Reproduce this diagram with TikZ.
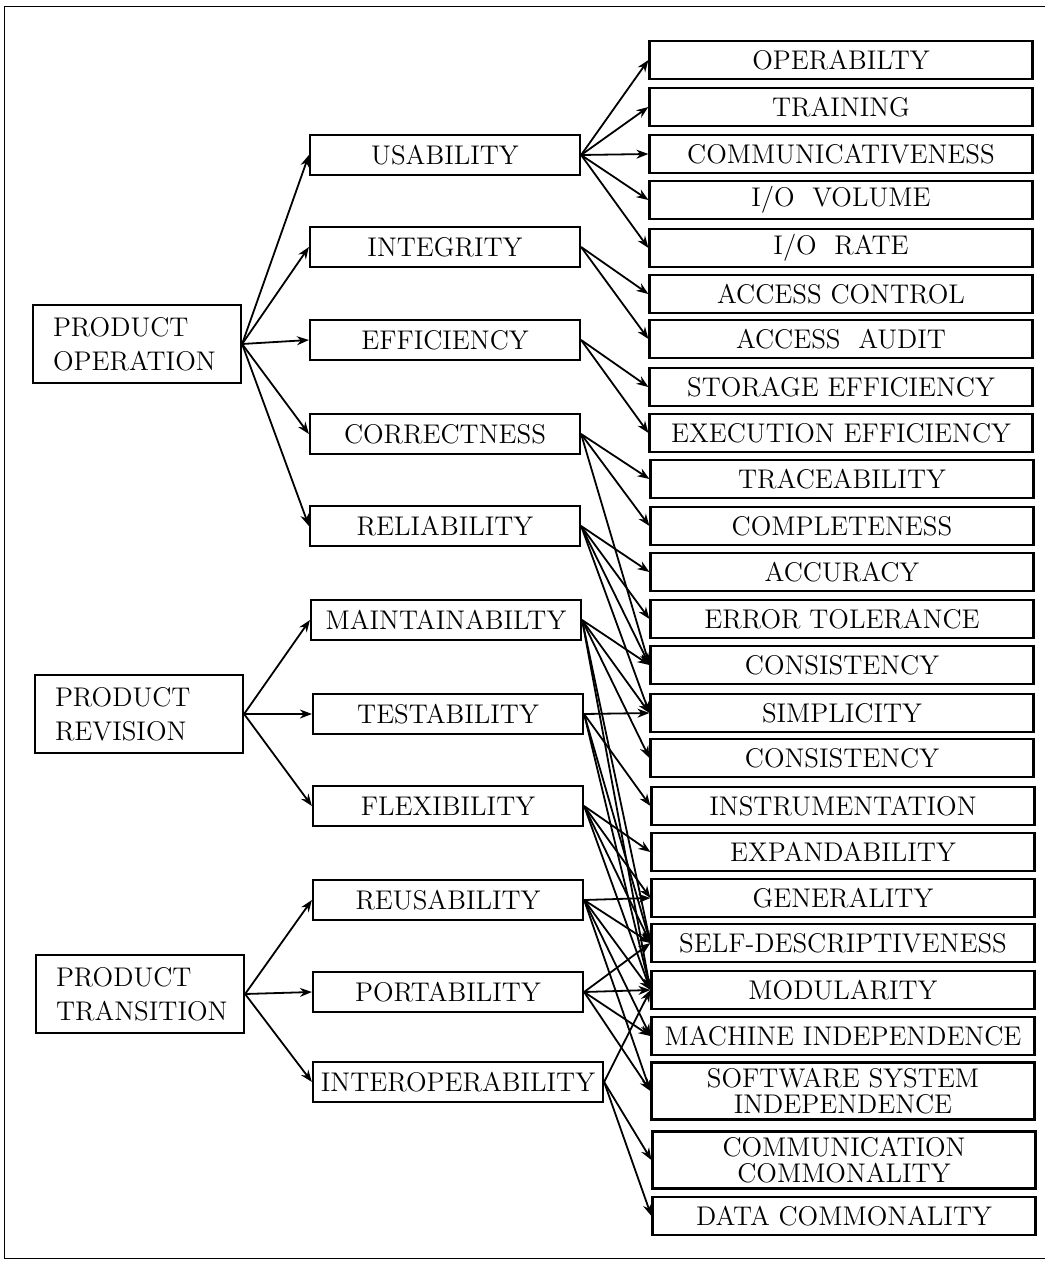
\documentclass[tikz,border=0pt]{standalone}
\usepackage{tikz}
\usetikzlibrary{arrows.meta,positioning}
\tikzset{
  caja/.style={draw,line width=1.1pt,fill=white,align=center,inner sep=2pt,font=\fontsize{13.5}{13}\selectfont},
  cajagrupo/.style={caja,align=left,text width=84pt,inner xsep=10pt,minimum height=39pt,font=\fontsize{13.5}{17}\selectfont},
  cajafactor/.style={caja,minimum width=135pt,minimum height=20pt},
  cajacriterio/.style={caja,minimum width=191.5pt,minimum height=19pt},
  cajadoble/.style={cajacriterio,minimum height=28.5pt},
  flecha/.style={-{Stealth[length=6pt,width=4.5pt]},line width=0.9pt},
  marco/.style={thin},
}

\begin{document}
\begin{tikzpicture}[x=0.5pt,y=-0.5pt]
  \useasboundingbox (0,0) rectangle (1045,1262);
  \draw[marco] (1045,6) -- (4,6) -- (4,1258) -- (1045,1258);

  % grupos
  \node[cajagrupo] (po) at (137,344) {PRODUCT\\OPERATION};
  \node[cajagrupo] (pr) at (139,714) {PRODUCT\\REVISION};
  \node[cajagrupo] (pt) at (140,994) {PRODUCT\\TRANSITION};

  % factores
  \node[cajafactor] (usab) at (445,155) {USABILITY};
  \node[cajafactor] (inte) at (445,247) {INTEGRITY};
  \node[cajafactor] (effi) at (445,340) {EFFICIENCY};
  \node[cajafactor] (corr) at (445,434) {CORRECTNESS};
  \node[cajafactor] (reli) at (445,526) {RELIABILITY};
  \node[cajafactor] (main) at (446,620) {MAINTAINABILTY};
  \node[cajafactor] (test) at (448,714) {TESTABILITY};
  \node[cajafactor] (flex) at (448,806) {FLEXIBILITY};
  \node[cajafactor] (reus) at (448,900) {REUSABILITY};
  \node[cajafactor] (port) at (448,992) {PORTABILITY};
  \node[cajafactor,minimum width=145pt] (intop) at (458,1082) {INTEROPERABILITY};

  % criterios
  \node[cajacriterio] (oper) at (841,60) {OPERABILTY};
  \node[cajacriterio] (trai) at (841,107) {TRAINING};
  \node[cajacriterio] (comm) at (841,154) {COMMUNICATIVENESS};
  \node[cajacriterio] (iovol) at (841,200) {I/O\ \ VOLUME};
  \node[cajacriterio] (iorat) at (841,248) {I/O\ \ RATE};
  \node[cajacriterio] (acon) at (841,294) {ACCESS CONTROL};
  \node[cajacriterio] (aaud) at (841,339) {ACCESS\ \ AUDIT};
  \node[cajacriterio] (stor) at (841,387) {STORAGE EFFICIENCY};
  \node[cajacriterio] (exec) at (841,433) {EXECUTION EFFICIENCY};
  \node[cajacriterio] (trac) at (842,479) {TRACEABILITY};
  \node[cajacriterio] (comp) at (842,526) {COMPLETENESS};
  \node[cajacriterio] (accu) at (842,572) {ACCURACY};
  \node[cajacriterio] (errt) at (842,619) {ERROR TOLERANCE};
  \node[cajacriterio] (cons) at (842,665) {CONSISTENCY};
  \node[cajacriterio] (simp) at (842,713) {SIMPLICITY};
  \node[cajacriterio] (conc) at (842,758) {CONSISTENCY};
  \node[cajacriterio] (inst) at (843,806) {INSTRUMENTATION};
  \node[cajacriterio] (expa) at (843,852) {EXPANDABILITY};
  \node[cajacriterio] (gene) at (843,898) {GENERALITY};
  \node[cajacriterio] (self) at (843,943) {SELF-DESCRIPTIVENESS};
  \node[cajacriterio] (modu) at (843,990) {MODULARITY};
  \node[cajacriterio] (mach) at (843,1036) {MACHINE INDEPENDENCE};
  \node[cajadoble] (soft) at (843,1091) {SOFTWARE SYSTEM\\INDEPENDENCE};
  \node[cajadoble] (ccom) at (844,1160) {COMMUNICATION\\COMMONALITY};
  \node[cajacriterio] (dcom) at (844,1216) {DATA COMMONALITY};

  % grupos -> factores
  \draw[flecha] (po.east) -- (usab.west);
  \draw[flecha] (po.east) -- (inte.west);
  \draw[flecha] (po.east) -- (effi.west);
  \draw[flecha] (po.east) -- (corr.west);
  \draw[flecha] (po.east) -- (reli.west);
  \draw[flecha] (pr.east) -- (main.west);
  \draw[flecha] (pr.east) -- (test.west);
  \draw[flecha] (pr.east) -- (flex.west);
  \draw[flecha] (pt.east) -- (reus.west);
  \draw[flecha] (pt.east) -- (port.west);
  \draw[flecha] (pt.east) -- (intop.west);

  % factores -> criterios
  \draw[flecha] (usab.east) -- (oper.west);
  \draw[flecha] (usab.east) -- (trai.west);
  \draw[flecha] (usab.east) -- (comm.west);
  \draw[flecha] (usab.east) -- (iovol.west);
  \draw[flecha] (usab.east) -- (iorat.west);
  \draw[flecha] (inte.east) -- (acon.west);
  \draw[flecha] (inte.east) -- (aaud.west);
  \draw[flecha] (effi.east) -- (stor.west);
  \draw[flecha] (effi.east) -- (exec.west);
  \draw[flecha] (corr.east) -- (trac.west);
  \draw[flecha] (corr.east) -- (comp.west);
  \draw[flecha] (corr.east) -- (cons.west);
  \draw[flecha] (reli.east) -- (accu.west);
  \draw[flecha] (reli.east) -- (errt.west);
  \draw[flecha] (reli.east) -- (cons.west);
  \draw[flecha] (reli.east) -- (simp.west);
  \draw[flecha] (main.east) -- (cons.west);
  \draw[flecha] (main.east) -- (simp.west);
  \draw[flecha] (main.east) -- (conc.west);
  \draw[flecha] (main.east) -- (self.west);
  \draw[flecha] (main.east) -- (modu.west);
  \draw[flecha] (test.east) -- (simp.west);
  \draw[flecha] (test.east) -- (inst.west);
  \draw[flecha] (test.east) -- (self.west);
  \draw[flecha] (test.east) -- (modu.west);
  \draw[flecha] (flex.east) -- (expa.west);
  \draw[flecha] (flex.east) -- (gene.west);
  \draw[flecha] (flex.east) -- (self.west);
  \draw[flecha] (flex.east) -- (modu.west);
  \draw[flecha] (reus.east) -- (gene.west);
  \draw[flecha] (reus.east) -- (self.west);
  \draw[flecha] (reus.east) -- (modu.west);
  \draw[flecha] (reus.east) -- (mach.west);
  \draw[flecha] (reus.east) -- (soft.west);
  \draw[flecha] (port.east) -- (self.west);
  \draw[flecha] (port.east) -- (modu.west);
  \draw[flecha] (port.east) -- (mach.west);
  \draw[flecha] (port.east) -- (soft.west);
  \draw[flecha] (intop.east) -- (modu.west);
  \draw[flecha] (intop.east) -- (ccom.west);
  \draw[flecha] (intop.east) -- (dcom.west);
\end{tikzpicture}
\end{document}
